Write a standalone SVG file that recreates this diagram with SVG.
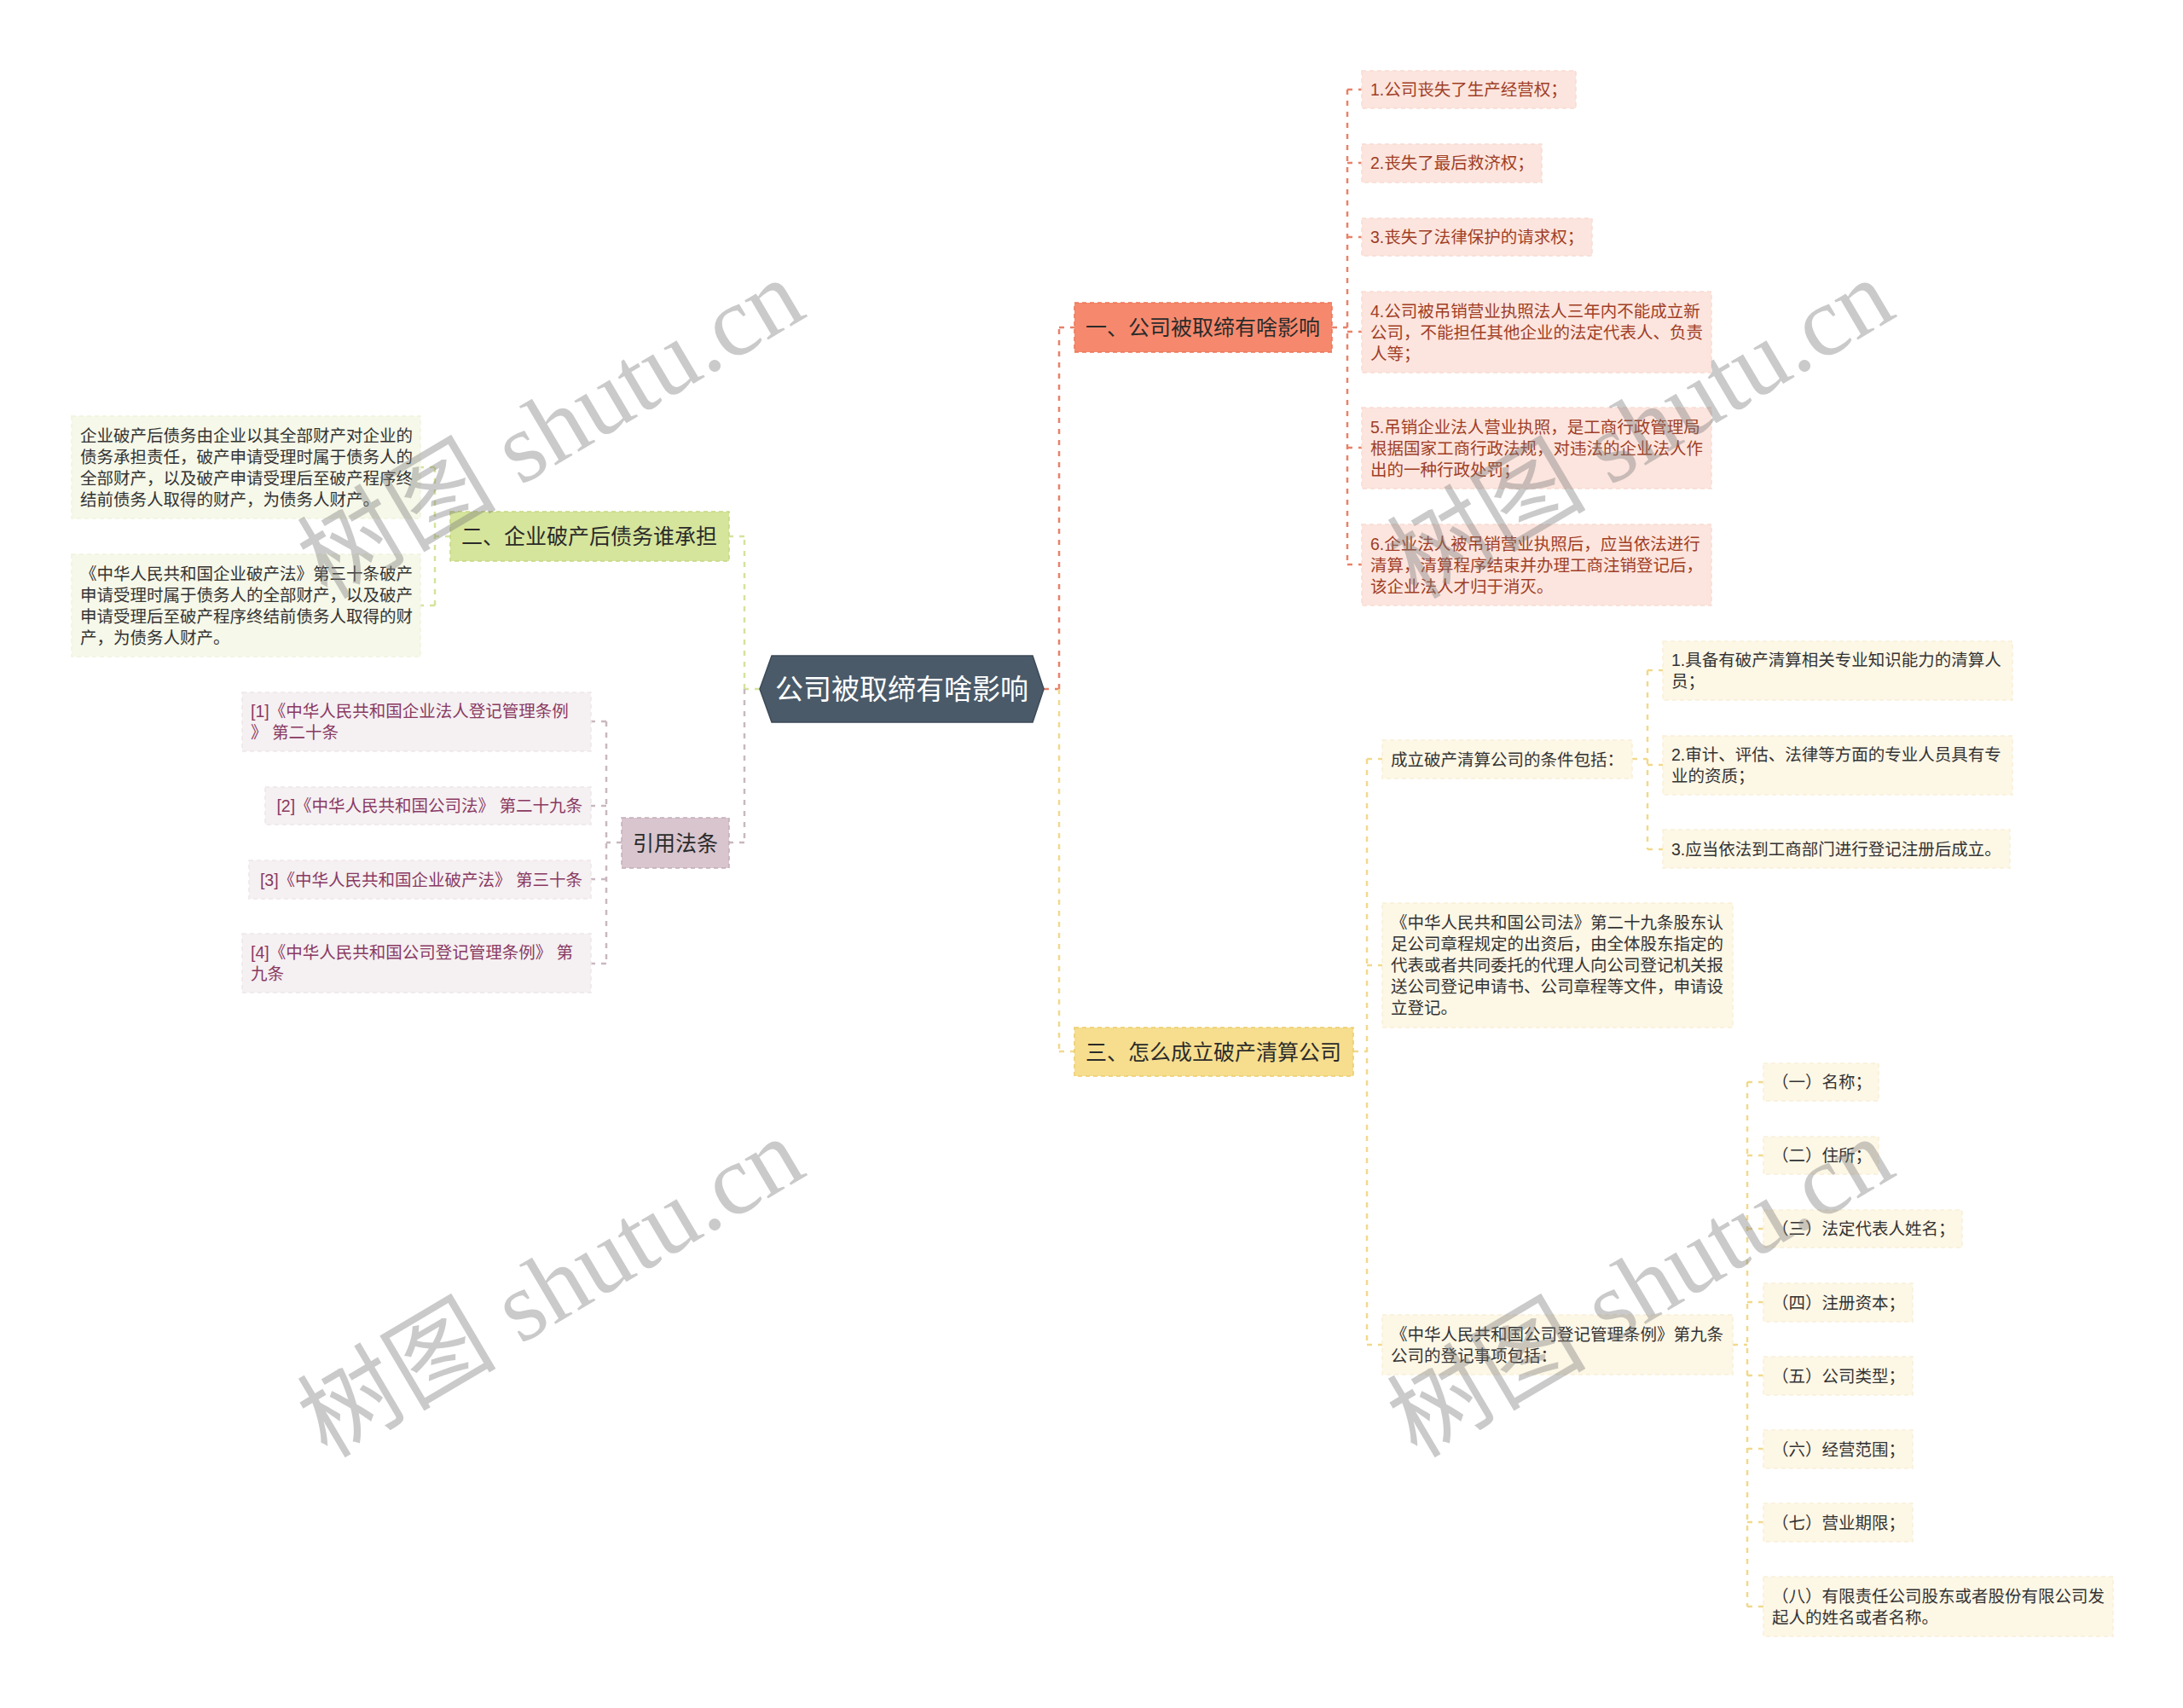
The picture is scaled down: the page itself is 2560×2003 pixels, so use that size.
<svg xmlns="http://www.w3.org/2000/svg" width="2560" height="2003" viewBox="0 0 2560 2003">
<style>
text{font-family:"Liberation Sans","Noto Sans CJK SC",sans-serif;}
.leaf{font-size:19.5px;}
.br{font-size:25px;fill:#2b2b2b;}
.c{fill:none;stroke-width:2.5;stroke-dasharray:6 7;}
.co{stroke:#E8826A;}
.cy{stroke:#F1D98C;}
.cg{stroke:#D4E39C;}
.cm{stroke:#C9B8C0;}
.p1{fill:#FCE5DE;stroke:#F8DBD2;stroke-width:1.5;stroke-dasharray:5 4;}
.t1{fill:#A03E26;}
.p2{fill:#F6F8E9;stroke:#EFF3DD;stroke-width:1.5;stroke-dasharray:5 4;}
.p3{fill:#FDF7E6;stroke:#F9F0D8;stroke-width:1.5;stroke-dasharray:5 4;}
.t3{fill:#333333;}
.p4{fill:#F5F0F2;stroke:#EEE6EA;stroke-width:1.5;stroke-dasharray:5 4;}
.t4{fill:#8A3A62;}
.wm{font-family:"Liberation Serif","Noto Sans CJK SC",serif;font-size:117px;fill:#7a7a7a;fill-opacity:0.4;}
</style>
<rect width="2560" height="2003" fill="#ffffff"/>
<g id="connectors">
<line class="c co" x1="1224" y1="808" x2="1242" y2="808"/>
<line class="c co" x1="1242" y1="808" x2="1242" y2="384"/>
<line class="c co" x1="1242" y1="384" x2="1260" y2="384"/>
<line class="c cy" x1="1242" y1="808" x2="1242" y2="1233"/>
<line class="c cy" x1="1242" y1="1233" x2="1260" y2="1233"/>
<line class="c co" x1="1562" y1="384" x2="1580" y2="384"/>
<line class="c co" x1="1580" y1="105" x2="1580" y2="662"/>
<line class="c co" x1="1580" y1="105" x2="1597" y2="105"/>
<line class="c co" x1="1580" y1="191" x2="1597" y2="191"/>
<line class="c co" x1="1580" y1="278" x2="1597" y2="278"/>
<line class="c co" x1="1580" y1="389" x2="1597" y2="389"/>
<line class="c co" x1="1580" y1="525" x2="1597" y2="525"/>
<line class="c co" x1="1580" y1="662" x2="1597" y2="662"/>
<line class="c cy" x1="1587" y1="1233" x2="1603" y2="1233"/>
<line class="c cy" x1="1603" y1="890" x2="1603" y2="1577"/>
<line class="c cy" x1="1603" y1="890" x2="1621" y2="890"/>
<line class="c cy" x1="1603" y1="1132" x2="1621" y2="1132"/>
<line class="c cy" x1="1603" y1="1577" x2="1621" y2="1577"/>
<line class="c cy" x1="1914" y1="890" x2="1932" y2="890"/>
<line class="c cy" x1="1932" y1="786" x2="1932" y2="996"/>
<line class="c cy" x1="1932" y1="786" x2="1950" y2="786"/>
<line class="c cy" x1="1932" y1="897" x2="1950" y2="897"/>
<line class="c cy" x1="1932" y1="996" x2="1950" y2="996"/>
<line class="c cy" x1="2032" y1="1577" x2="2049" y2="1577"/>
<line class="c cy" x1="2049" y1="1269" x2="2049" y2="1884"/>
<line class="c cy" x1="2049" y1="1269" x2="2068" y2="1269"/>
<line class="c cy" x1="2049" y1="1355" x2="2068" y2="1355"/>
<line class="c cy" x1="2049" y1="1441" x2="2068" y2="1441"/>
<line class="c cy" x1="2049" y1="1527" x2="2068" y2="1527"/>
<line class="c cy" x1="2049" y1="1613" x2="2068" y2="1613"/>
<line class="c cy" x1="2049" y1="1699" x2="2068" y2="1699"/>
<line class="c cy" x1="2049" y1="1785" x2="2068" y2="1785"/>
<line class="c cy" x1="2049" y1="1884" x2="2068" y2="1884"/>
<line class="c cg" x1="891" y1="808" x2="873" y2="808"/>
<line class="c cg" x1="873" y1="808" x2="873" y2="629"/>
<line class="c cg" x1="873" y1="629" x2="855" y2="629"/>
<line class="c cm" x1="873" y1="808" x2="873" y2="988"/>
<line class="c cm" x1="873" y1="988" x2="855" y2="988"/>
<line class="c cg" x1="528" y1="629" x2="510" y2="629"/>
<line class="c cg" x1="510" y1="548" x2="510" y2="710"/>
<line class="c cg" x1="510" y1="548" x2="493" y2="548"/>
<line class="c cg" x1="510" y1="710" x2="493" y2="710"/>
<line class="c cm" x1="729" y1="988" x2="711" y2="988"/>
<line class="c cm" x1="711" y1="846" x2="711" y2="1130"/>
<line class="c cm" x1="711" y1="846" x2="693" y2="846"/>
<line class="c cm" x1="711" y1="945" x2="693" y2="945"/>
<line class="c cm" x1="711" y1="1031" x2="693" y2="1031"/>
<line class="c cm" x1="711" y1="1130" x2="693" y2="1130"/>
</g>

<g id="root">
<polygon points="891,808 905,769 1211,769 1224,808 1211,847 905,847" fill="#4A5A69" stroke="#3C4A57" stroke-width="1.5"/>
<text x="1057.5" y="820" text-anchor="middle" font-size="33" fill="#ffffff">公司被取缔有啥影响</text>
</g>

<g id="b1">
<rect x="1260" y="355" width="302" height="58" fill="#F6896D" stroke="#EC7658" stroke-width="1.5" stroke-dasharray="5 4"/>
<text class="br" x="1273" y="392.5">一、公司被取缔有啥影响</text>
</g>
<g id="b1-1"><rect class="p1" x="1597" y="83" width="251" height="44"/><text class="leaf t1" x="1607" y="112">1.公司丧失了生产经营权；</text></g>
<g id="b1-2"><rect class="p1" x="1597" y="169" width="211" height="45"/><text class="leaf t1" x="1607" y="198">2.丧失了最后救济权；</text></g>
<g id="b1-3"><rect class="p1" x="1597" y="256" width="270" height="44"/><text class="leaf t1" x="1607" y="285">3.丧失了法律保护的请求权；</text></g>
<g id="b1-4"><rect class="p1" x="1597" y="342" width="410" height="95"/><text class="leaf t1"><tspan x="1607" y="371.5">4.公司被吊销营业执照法人三年内不能成立新</tspan><tspan x="1607" y="396.5">公司，不能担任其他企业的法定代表人、负责</tspan><tspan x="1607" y="421.5">人等；</tspan></text></g>
<g id="b1-5"><rect class="p1" x="1597" y="478" width="410" height="95"/><text class="leaf t1"><tspan x="1607" y="507.5">5.吊销企业法人营业执照，是工商行政管理局</tspan><tspan x="1607" y="532.5">根据国家工商行政法规，对违法的企业法人作</tspan><tspan x="1607" y="557.5">出的一种行政处罚；</tspan></text></g>
<g id="b1-6"><rect class="p1" x="1597" y="615" width="410" height="95"/><text class="leaf t1"><tspan x="1607" y="644.5">6.企业法人被吊销营业执照后，应当依法进行</tspan><tspan x="1607" y="669.5">清算，清算程序结束并办理工商注销登记后，</tspan><tspan x="1607" y="694.5">该企业法人才归于消灭。</tspan></text></g>

<g id="b2">
<rect x="528" y="600" width="327" height="58" fill="#D6E59C" stroke="#C5D883" stroke-width="1.5" stroke-dasharray="5 4"/>
<text class="br" x="541" y="638">二、企业破产后债务谁承担</text>
</g>
<g id="b2-1"><rect class="p2" x="84" y="488" width="409" height="120"/><text class="leaf t3"><tspan x="94" y="517.5">企业破产后债务由企业以其全部财产对企业的</tspan><tspan x="94" y="542.5">债务承担责任，破产申请受理时属于债务人的</tspan><tspan x="94" y="567.5">全部财产，以及破产申请受理后至破产程序终</tspan><tspan x="94" y="592.5">结前债务人取得的财产，为债务人财产。</tspan></text></g>
<g id="b2-2"><rect class="p2" x="84" y="650" width="409" height="120"/><text class="leaf t3"><tspan x="94" y="679.5">《中华人民共和国企业破产法》第三十条破产</tspan><tspan x="94" y="704.5">申请受理时属于债务人的全部财产，以及破产</tspan><tspan x="94" y="729.5">申请受理后至破产程序终结前债务人取得的财</tspan><tspan x="94" y="754.5">产，为债务人财产。</tspan></text></g>

<g id="ref">
<rect x="729" y="959" width="126" height="59" fill="#D8C5CE" stroke="#C4ADB8" stroke-width="1.5" stroke-dasharray="5 4"/>
<text class="br" x="742" y="997.5">引用法条</text>
</g>
<g id="ref-1"><rect class="p4" x="284" y="812" width="409" height="69"/><text class="leaf t4"><tspan x="294" y="841">[1]《中华人民共和国企业法人登记管理条例</tspan><tspan x="294" y="866">》 第二十条</tspan></text></g>
<g id="ref-2"><rect class="p4" x="311" y="923" width="382" height="44"/><text class="leaf t4" x="683" y="952" text-anchor="end">[2]《中华人民共和国公司法》 第二十九条</text></g>
<g id="ref-3"><rect class="p4" x="292" y="1009" width="401" height="45"/><text class="leaf t4" x="683" y="1038.5" text-anchor="end">[3]《中华人民共和国企业破产法》 第三十条</text></g>
<g id="ref-4"><rect class="p4" x="284" y="1095" width="409" height="69"/><text class="leaf t4"><tspan x="294" y="1124">[4]《中华人民共和国公司登记管理条例》 第</tspan><tspan x="294" y="1149">九条</tspan></text></g>

<g id="b3">
<rect x="1260" y="1205" width="327" height="57" fill="#F6DE8E" stroke="#EBCB6C" stroke-width="1.5" stroke-dasharray="5 4"/>
<text class="br" x="1273" y="1242.5">三、怎么成立破产清算公司</text>
</g>
<g id="b3-1"><rect class="p3" x="1621" y="868" width="293" height="45"/><text class="leaf t3" x="1631" y="897.5">成立破产清算公司的条件包括：</text></g>
<g id="b3-1-1"><rect class="p3" x="1950" y="752" width="410" height="69"/><text class="leaf t3"><tspan x="1960" y="780.5">1.具备有破产清算相关专业知识能力的清算人</tspan><tspan x="1960" y="805.5">员；</tspan></text></g>
<g id="b3-1-2"><rect class="p3" x="1950" y="863" width="410" height="69"/><text class="leaf t3"><tspan x="1960" y="892">2.审计、评估、法律等方面的专业人员具有专</tspan><tspan x="1960" y="917">业的资质；</tspan></text></g>
<g id="b3-1-3"><rect class="p3" x="1950" y="973" width="407" height="45"/><text class="leaf t3" x="1960" y="1002.5">3.应当依法到工商部门进行登记注册后成立。</text></g>
<g id="b3-2"><rect class="p3" x="1621" y="1059" width="411" height="146"/><text class="leaf t3"><tspan x="1631" y="1089">《中华人民共和国公司法》第二十九条股东认</tspan><tspan x="1631" y="1114">足公司章程规定的出资后，由全体股东指定的</tspan><tspan x="1631" y="1139">代表或者共同委托的代理人向公司登记机关报</tspan><tspan x="1631" y="1164">送公司登记申请书、公司章程等文件，申请设</tspan><tspan x="1631" y="1189">立登记。</tspan></text></g>
<g id="b3-3"><rect class="p3" x="1621" y="1542" width="411" height="70"/><text class="leaf t3"><tspan x="1631" y="1571.5">《中华人民共和国公司登记管理条例》第九条</tspan><tspan x="1631" y="1596.5">公司的登记事项包括：</tspan></text></g>
<g id="b3-3-1"><rect class="p3" x="2068" y="1247" width="135" height="44"/><text class="leaf t3" x="2078" y="1276">（一）名称；</text></g>
<g id="b3-3-2"><rect class="p3" x="2068" y="1333" width="135" height="44"/><text class="leaf t3" x="2078" y="1362">（二）住所；</text></g>
<g id="b3-3-3"><rect class="p3" x="2068" y="1419" width="233" height="44"/><text class="leaf t3" x="2078" y="1448">（三）法定代表人姓名；</text></g>
<g id="b3-3-4"><rect class="p3" x="2068" y="1505" width="175" height="45"/><text class="leaf t3" x="2078" y="1534.5">（四）注册资本；</text></g>
<g id="b3-3-5"><rect class="p3" x="2068" y="1591" width="175" height="45"/><text class="leaf t3" x="2078" y="1620.5">（五）公司类型；</text></g>
<g id="b3-3-6"><rect class="p3" x="2068" y="1677" width="175" height="45"/><text class="leaf t3" x="2078" y="1706.5">（六）经营范围；</text></g>
<g id="b3-3-7"><rect class="p3" x="2068" y="1763" width="175" height="45"/><text class="leaf t3" x="2078" y="1792.5">（七）营业期限；</text></g>
<g id="b3-3-8"><rect class="p3" x="2068" y="1849" width="410" height="70"/><text class="leaf t3"><tspan x="2078" y="1878.5">（八）有限责任公司股东或者股份有限公司发</tspan><tspan x="2078" y="1903.5">起人的姓名或者名称。</tspan></text></g>

<g id="watermarks">
<text class="wm" x="0" y="0" text-anchor="middle" transform="translate(666,537) rotate(-30.6)">树图 shutu.cn</text>
<text class="wm" x="0" y="0" text-anchor="middle" transform="translate(1944,537) rotate(-30.6)">树图 shutu.cn</text>
<text class="wm" x="0" y="0" text-anchor="middle" transform="translate(666,1544) rotate(-30.6)">树图 shutu.cn</text>
<text class="wm" x="0" y="0" text-anchor="middle" transform="translate(1944,1544) rotate(-30.6)">树图 shutu.cn</text>
</g>
</svg>
